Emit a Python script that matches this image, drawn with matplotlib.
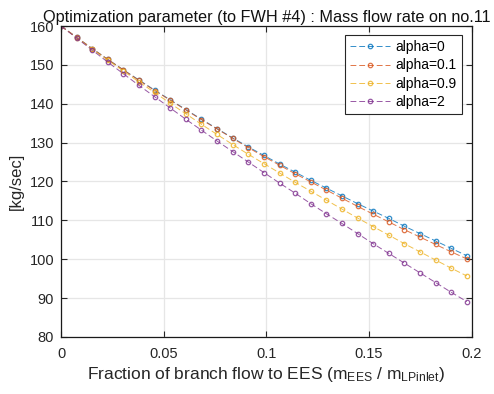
import numpy as np
import matplotlib
matplotlib.use('Agg')
import matplotlib.pyplot as plt

# branch flow fraction (27 sample points)
frac = np.arange(27) * 0.0076

# mass flow rate [kg/sec] for each alpha
flow_a0 = [160.0, 157.1, 154.2, 151.4, 148.7, 146.1, 143.5, 141.0, 138.5, 136.0,
           133.6, 131.2, 128.9, 126.7, 124.5, 122.4, 120.3, 118.3, 116.3, 114.3,
           112.4, 110.5, 108.5, 106.6, 104.7, 102.8, 100.9]
flow_a01 = [160.0, 157.1, 154.2, 151.4, 148.7, 146.0, 143.4, 140.9, 138.4, 135.9,
            133.5, 131.1, 128.7, 126.4, 124.2, 122.0, 119.9, 117.8, 115.7, 113.6,
            111.6, 109.6, 107.6, 105.7, 103.8, 101.9, 100.1]
flow_a09 = [160.0, 157.0, 154.0, 151.2, 148.4, 145.6, 142.9, 140.1, 137.4, 134.7,
            132.1, 129.5, 127.0, 124.6, 122.2, 119.8, 117.5, 115.2, 112.9, 110.6,
            108.4, 106.2, 104.0, 101.9, 99.8, 97.7, 95.7]
flow_a2 = [160.0, 156.9, 153.8, 150.7, 147.7, 144.7, 141.8, 138.9, 136.0, 133.2,
           130.4, 127.7, 125.0, 122.3, 119.6, 117.0, 114.3, 111.7, 109.2, 106.6,
           104.0, 101.5, 99.0, 96.5, 94.0, 91.5, 89.1]

labels = ['alpha=0', 'alpha=0.1', 'alpha=0.9', 'alpha=2']
colors = ['#0072BD', '#D95319', '#EDB120', '#7E2F8E']

plt.rcParams['font.family'] = ['Liberation Sans', 'DejaVu Sans']
plt.rcParams['mathtext.fontset'] = 'custom'
plt.rcParams['mathtext.rm'] = 'Liberation Sans'
plt.rcParams['mathtext.it'] = 'Liberation Sans'

fig = plt.figure(figsize=(4.94, 3.94), dpi=100)
ax = fig.add_axes([0.1235, 0.1447, 0.8315, 0.7893])

for y, lab, c in zip([flow_a0, flow_a01, flow_a09, flow_a2], labels, colors):
    ax.plot(frac, y, linestyle=(0, (6, 3)), linewidth=0.7, color=c, alpha=0.8,
            marker='o', markersize=3.2, markerfacecolor='none',
            markeredgecolor=c, markeredgewidth=0.9, label=lab)

ax.set_xlim(0, 0.2)
ax.set_ylim(80, 160)
ax.set_xticks([0, 0.05, 0.1, 0.15, 0.2])
ax.set_xticklabels(['0', '0.05', '0.1', '0.15', '0.2'])
ax.set_yticks(np.arange(80, 161, 10))
ax.grid(True, color='#e6e6e6', linewidth=0.9)
ax.set_axisbelow(True)
ax.tick_params(direction='in', length=4, width=0.8, top=True, right=True,
               labelsize=10.5, colors='#262626')
ax.tick_params(axis='x', pad=7)
ax.tick_params(axis='y', pad=5)
for sp in ax.spines.values():
    sp.set_color('#1a1a1a')
    sp.set_linewidth(0.9)

ax.set_title('Optimization parameter (to FWH #4) : Mass flow rate on no.11',
             fontsize=11.7, pad=3, color='#111111')
ax.set_xlabel(r'Fraction of branch flow to EES (m$_{\mathrm{EES}}$ / m$_{\mathrm{LPinlet}}$)',
              fontsize=12.5, color='#262626', labelpad=3)
ax.set_ylabel('[kg/sec]', fontsize=12, color='#262626', labelpad=4)

leg = ax.legend(loc='upper right', bbox_to_anchor=(0.975, 0.97), fontsize=10,
                handlelength=2.9, fancybox=False, framealpha=1,
                edgecolor='#262626', borderpad=0.35, labelspacing=0.3,
                handletextpad=0.4, borderaxespad=0)
leg.get_frame().set_linewidth(0.8)

fig.savefig('out.png', dpi=100)
